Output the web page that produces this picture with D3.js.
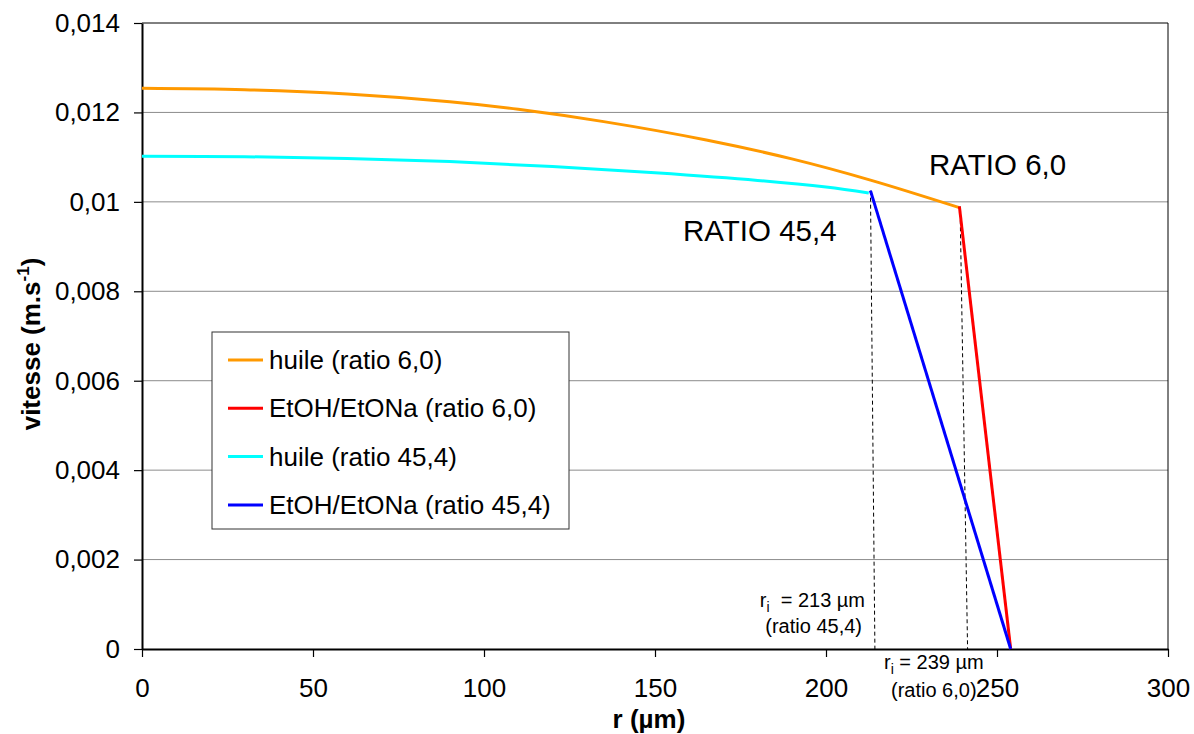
<!DOCTYPE html>
<html>
<head>
<meta charset="utf-8">
<script src="https://cdn.jsdelivr.net/npm/d3@7"></script>
<style>
  html, body { margin: 0; padding: 0; background: #fff; }
  svg { display: block; font-family: "Liberation Sans", Arial, sans-serif; }
</style>
</head>
<body>
<svg id="chart" width="1194" height="734"></svg>
<script>
// ---- data ----
const xTicks = [0, 50, 100, 150, 200, 250, 300];
const xTickLabels = ["0", "50", "100", "150", "200", "250", "300"];
const yTicks = [0, 0.002, 0.004, 0.006, 0.008, 0.010, 0.012, 0.014];
const yTickLabels = ["0", "0,002", "0,004", "0,006", "0,008", "0,01", "0,012", "0,014"];

const huile60_r = [0, 30, 60, 90, 110, 135, 165, 190, 213, 239];
const huile60_v = [0.01254, 0.012508, 0.012413, 0.012239, 0.012071, 0.011794, 0.011383, 0.010961, 0.010487, 0.009871];

const etoh60_r = [239, 254];
const etoh60_v = [0.00990, 0];

const huile454_r = [0, 30, 60, 90, 120, 150, 180, 200, 212.5];
const huile454_v = [0.01102, 0.01101, 0.01097, 0.01090, 0.01079, 0.01065, 0.01048, 0.01033, 0.01020];

const etoh454_r = [213, 254];
const etoh454_v = [0.01025, 0];

const dash454_r = [213, 214.3];
const dash454_v = [0.01025, 0];
const dash60_r = [239.2, 241.4];
const dash60_v = [0.00990, 0];

const seriesNames = ["huile (ratio 6,0)", "EtOH/EtONa (ratio 6,0)", "huile (ratio 45,4)", "EtOH/EtONa (ratio 45,4)"];
const seriesColors = ["#FF9900", "#FF0000", "#00FFFF", "#0000FF"];

// ---- layout ----
const svg = d3.select("#chart");
const L = 142, R = 1168, T = 23, B = 649;
const x = d3.scaleLinear().domain([0, 300]).range([L, R]);
const y = d3.scaleLinear().domain([0, 0.014]).range([B, T]);

// gridlines
svg.append("g").selectAll("line").data(yTicks.filter(d => d > 0 && d < 0.014)).join("line")
  .attr("x1", L).attr("x2", R).attr("y1", d => y(d)).attr("y2", d => y(d))
  .attr("stroke", "#8c8c8c").attr("stroke-width", 1);

// plot border (top, right)
svg.append("line").attr("x1", L).attr("x2", R).attr("y1", T).attr("y2", T).attr("stroke", "#000").attr("stroke-width", 1);
svg.append("line").attr("x1", R).attr("x2", R).attr("y1", T).attr("y2", B).attr("stroke", "#000").attr("stroke-width", 1);

// axes
const xAxis = d3.axisBottom(x).tickValues(xTicks).tickFormat((d, i) => xTickLabels[i]).tickSize(8).tickPadding(21.5).tickSizeOuter(0);
const yAxis = d3.axisLeft(y).tickValues(yTicks).tickFormat((d, i) => yTickLabels[i]).tickSize(8).tickPadding(14).tickSizeOuter(0);

const gx = svg.append("g").attr("transform", `translate(0,${B})`).call(xAxis);
const gy = svg.append("g").attr("transform", `translate(${L},0)`).call(yAxis);
[gx, gy].forEach(g => {
  g.selectAll("text").attr("font-size", 26).attr("fill", "#000").attr("font-family", "Liberation Sans, Arial, sans-serif");
  g.selectAll("line").attr("stroke", "#000").attr("stroke-width", 1.2);
  g.select(".domain").attr("stroke", "#000").attr("stroke-width", 2);
});

// dashed guide lines
const line = d3.line().x(d => x(d[0])).y(d => y(d[1]));
[[dash454_r, dash454_v], [dash60_r, dash60_v]].forEach(([rs, vs]) => {
  svg.append("path").datum(rs.map((r, i) => [r, vs[i]]))
    .attr("d", line).attr("fill", "none").attr("stroke", "#000")
    .attr("stroke-width", 1).attr("stroke-dasharray", "4,3");
});

// series
const smooth = d3.line().x(d => x(d[0])).y(d => y(d[1])).curve(d3.curveCatmullRom.alpha(0.5));
const series = [
  [huile60_r, huile60_v, seriesColors[0], smooth],
  [huile454_r, huile454_v, seriesColors[2], smooth],
  [etoh60_r, etoh60_v, seriesColors[1], line],
  [etoh454_r, etoh454_v, seriesColors[3], line]
];
series.forEach(([rs, vs, c, gen]) => {
  svg.append("path").datum(rs.map((r, i) => [r, vs[i]]))
    .attr("d", gen).attr("fill", "none").attr("stroke", c)
    .attr("stroke-width", 3).attr("stroke-linejoin", "round");
});

// annotations
svg.append("text").attr("x", 929).attr("y", 175).attr("font-size", 29.5).text("RATIO 6,0");
svg.append("text").attr("x", 683).attr("y", 241).attr("font-size", 29.5).text("RATIO 45,4");

const a1 = svg.append("text").attr("x", 865).attr("y", 607).attr("font-size", 20).attr("text-anchor", "end");
a1.append("tspan").text("r");
a1.append("tspan").attr("font-size", 14).attr("dy", 5).text("i");
a1.append("tspan").attr("dy", -5).text("  = 213 µm").attr("xml:space", "preserve");
svg.append("text").attr("x", 862).attr("y", 633).attr("font-size", 20).attr("text-anchor", "end").text("(ratio 45,4)");

const a2 = svg.append("text").attr("x", 884).attr("y", 669).attr("font-size", 20);
a2.append("tspan").text("r");
a2.append("tspan").attr("font-size", 14).attr("dy", 5).text("i");
a2.append("tspan").attr("dy", -5).text(" = 239 µm");
svg.append("text").attr("x", 891).attr("y", 697).attr("font-size", 20).text("(ratio 6,0)");

// axis titles
svg.append("text").attr("x", 649).attr("y", 728).attr("font-size", 26).attr("font-weight", "bold")
  .attr("text-anchor", "middle").text("r (µm)");
const yt = svg.append("text").attr("transform", "translate(40,344) rotate(-90)")
  .attr("font-size", 26).attr("font-weight", "bold").attr("text-anchor", "middle");
yt.append("tspan").text("vitesse (m.s");
yt.append("tspan").attr("font-size", 17).attr("dy", -11).text("-1");
yt.append("tspan").attr("dy", 11).text(")");

// legend
const lg = svg.append("g");
lg.append("rect").attr("x", 212).attr("y", 332).attr("width", 357).attr("height", 197)
  .attr("fill", "#fff").attr("stroke", "#333").attr("stroke-width", 1);
seriesNames.forEach((name, i) => {
  const cy = 360 + i * 48.3;
  lg.append("line").attr("x1", 228).attr("x2", 263).attr("y1", cy).attr("y2", cy)
    .attr("stroke", seriesColors[i]).attr("stroke-width", 3);
  lg.append("text").attr("x", 269).attr("y", cy + 9).attr("font-size", 26).text(name);
});
</script>
</body>
</html>
